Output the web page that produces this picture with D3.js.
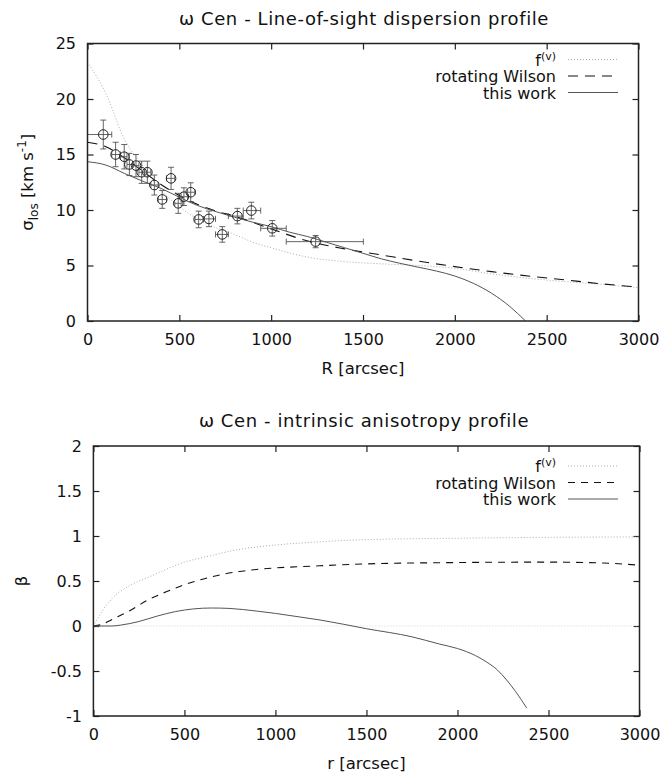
<!DOCTYPE html>
<html>
<head>
<meta charset="utf-8">
<script src="https://cdn.jsdelivr.net/npm/d3@7"></script>
<style>
  body { margin: 0; background: #fff; }
  text { font-family: "DejaVu Sans", sans-serif; fill: #111; }
</style>
</head>
<body>
<svg id="chart" width="665" height="775"></svg>
<script>
// --- observed line-of-sight dispersion (points with bins) ---
const obsR      = [86, 153, 200, 228, 264, 295, 326, 364, 407, 455, 494, 525, 562, 605, 661, 734, 816, 892, 1006, 1242];
const obsRlow   = [0, 132, 180, 215, 245, 280, 310, 345, 385, 430, 475, 510, 545, 585, 631, 697, 767, 848, 943, 1082];
const obsRhigh  = [132, 180, 215, 245, 280, 310, 345, 385, 430, 475, 510, 545, 585, 631, 697, 767, 848, 943, 1082, 1502];
const obsSigma  = [16.8, 15.0, 14.8, 14.1, 14.0, 13.4, 13.4, 12.25, 10.95, 12.85, 10.6, 11.2, 11.6, 9.15, 9.2, 7.8, 9.45, 9.95, 8.35, 7.15];
const obsSigErr = [1.3, 1.1, 1.1, 1.0, 1.0, 1.0, 1.0, 0.9, 0.8, 1.0, 0.9, 0.8, 0.85, 0.75, 0.7, 0.7, 0.7, 0.75, 0.7, 0.55];

// --- model dispersion curves ---
const fvLosR       = [0, 100, 200, 300, 400, 500, 600, 700, 800, 900, 1000, 1200, 1400, 1600, 1800, 2000, 2200, 2400, 2600, 2800, 3000];
const fvLosSigma   = [23.3, 20.5, 16.4, 14.0, 11.8, 10.3, 9.2, 8.4, 7.8, 7.1, 6.6, 5.75, 5.35, 5.15, 5.0, 4.75, 4.25, 3.85, 3.55, 3.3, 3.0];
const wilLosR      = [0, 100, 200, 300, 400, 500, 600, 700, 800, 1000, 1200, 1400, 1600, 1800, 2000, 2200, 2400, 2600, 2800, 3000];
const wilLosSigma  = [16.1, 15.7, 14.7, 13.5, 12.3, 11.3, 10.5, 9.9, 9.45, 8.3, 7.2, 6.5, 5.95, 5.4, 4.9, 4.45, 4.05, 3.7, 3.35, 3.05];
const workLosR     = [0, 100, 200, 300, 400, 500, 600, 700, 800, 900, 1000, 1100, 1200, 1300, 1400, 1500, 1600, 1700, 1800, 1900, 2000, 2100, 2200, 2300, 2385];
const workLosSigma = [14.35, 14.05, 13.3, 12.6, 11.95, 11.15, 10.4, 9.85, 9.35, 8.9, 8.5, 8.0, 7.6, 7.1, 6.6, 6.1, 5.6, 5.2, 4.85, 4.5, 4.05, 3.4, 2.5, 1.3, 0];

// --- anisotropy curves ---
const fvBetaR     = [0, 50, 100, 200, 300, 400, 500, 600, 800, 1000, 1200, 1500, 2000, 2500, 3000];
const fvBeta      = [0, 0.17, 0.3, 0.45, 0.54, 0.63, 0.71, 0.76, 0.85, 0.9, 0.93, 0.96, 0.975, 0.985, 0.99];
const wilBetaR    = [0, 50, 100, 200, 300, 400, 500, 600, 700, 800, 1000, 1200, 1500, 2000, 2500, 2800, 3000];
const wilBeta     = [0, 0.02, 0.07, 0.17, 0.29, 0.38, 0.46, 0.52, 0.57, 0.605, 0.645, 0.665, 0.69, 0.705, 0.71, 0.7, 0.675];
const workBetaR   = [0, 100, 150, 250, 350, 450, 550, 650, 750, 900, 1000, 1135, 1245, 1500, 1750, 1900, 2000, 2100, 2160, 2220, 2270, 2320, 2380];
const workBeta    = [0, 0, 0.01, 0.05, 0.11, 0.16, 0.19, 0.2, 0.195, 0.165, 0.14, 0.1, 0.067, -0.03, -0.12, -0.2, -0.25, -0.33, -0.4, -0.49, -0.6, -0.73, -0.91];

const xTicks = [0, 500, 1000, 1500, 2000, 2500, 3000];
const losTicks = [0, 5, 10, 15, 20, 25];
const betaTicks = [-1, -0.5, 0, 0.5, 1, 1.5, 2];
const legendNames = ["f(v)", "rotating Wilson", "this work"];

const svg = d3.select("#chart");

const styles = {
  fv:   { stroke: "#aaa", dash: "1,2", width: 1 },
  wil:  { stroke: "#111", dash: "9,7", width: 1.1 },
  work: { stroke: "#555", dash: null, width: 1 }
};

function zip(a, b) { return a.map((v, i) => [v, b[i]]); }
const plain = d => String(d);

function panel(opt) {
  const x = d3.scaleLinear().domain([0, 3000]).range(opt.xRange);
  const y = d3.scaleLinear().domain(opt.yDomain).range(opt.yRange);
  const g = svg.append("g");

  const clipId = "clip" + opt.id;
  g.append("clipPath").attr("id", clipId).append("rect")
    .attr("x", opt.xRange[0]).attr("y", opt.yRange[1])
    .attr("width", opt.xRange[1] - opt.xRange[0])
    .attr("height", opt.yRange[0] - opt.yRange[1]);

  // axes with inward ticks on all four sides
  const bottom = g.append("g").attr("transform", `translate(0,${opt.yRange[0]})`)
    .call(d3.axisBottom(x).tickValues(xTicks).tickSize(-6).tickPadding(13).tickFormat(plain));
  const top = g.append("g").attr("transform", `translate(0,${opt.yRange[1]})`)
    .call(d3.axisTop(x).tickValues(xTicks).tickSize(-6).tickFormat(""));
  const left = g.append("g").attr("transform", `translate(${opt.xRange[0]},0)`)
    .call(d3.axisLeft(y).tickValues(opt.yTicks).tickSize(-6).tickPadding(11.5).tickFormat(plain));
  const right = g.append("g").attr("transform", `translate(${opt.xRange[1]},0)`)
    .call(d3.axisRight(y).tickValues(opt.yTicks).tickSize(-6).tickFormat(""));

  [bottom, top, left, right].forEach(a => {
    a.select(".domain").remove();
    a.selectAll("line").attr("stroke", "#222").attr("stroke-width", 1.2);
    a.selectAll("text").attr("font-size", 16).attr("fill", "#111")
      .style("font-family", "'DejaVu Sans', sans-serif");
  });

  const plot = g.append("g").attr("clip-path", `url(#${clipId})`);

  if (opt.zeroLine) {
    plot.append("line")
      .attr("x1", opt.xRange[0]).attr("x2", opt.xRange[1])
      .attr("y1", y(0)).attr("y2", y(0))
      .attr("stroke", "#ccc").attr("stroke-width", 0.8).attr("stroke-dasharray", "1,2");
  }

  const line = d3.line().x(d => x(d[0])).y(d => y(d[1])).curve(d3.curveMonotoneX);

  opt.curves.forEach(c => {
    const s = styles[c.key];
    plot.append("path")
      .attr("d", line(zip(c.xs, c.ys)))
      .attr("fill", "none")
      .attr("stroke", s.stroke)
      .attr("stroke-width", s.width)
      .attr("stroke-dasharray", c.key === "wil" ? opt.wilDash : s.dash);
  });

  if (opt.points) {
    const cap = 3;
    const pts = plot.append("g").attr("stroke", "#555").attr("stroke-width", 0.9).attr("fill", "none");
    obsR.forEach((r, i) => {
      const cx = x(r), cy = y(obsSigma[i]);
      const xl = x(obsRlow[i]), xh = x(obsRhigh[i]);
      const yl = y(obsSigma[i] - obsSigErr[i]), yh = y(obsSigma[i] + obsSigErr[i]);
      pts.append("line").attr("x1", xl).attr("x2", xh).attr("y1", cy).attr("y2", cy);
      pts.append("line").attr("x1", xl).attr("x2", xl).attr("y1", cy - cap).attr("y2", cy + cap);
      pts.append("line").attr("x1", xh).attr("x2", xh).attr("y1", cy - cap).attr("y2", cy + cap);
      pts.append("line").attr("x1", cx).attr("x2", cx).attr("y1", yl).attr("y2", yh);
      pts.append("line").attr("x1", cx - cap).attr("x2", cx + cap).attr("y1", yl).attr("y2", yl);
      pts.append("line").attr("x1", cx - cap).attr("x2", cx + cap).attr("y1", yh).attr("y2", yh);
      pts.append("circle").attr("cx", cx).attr("cy", cy).attr("r", 4.8)
        .attr("stroke", "#222").attr("stroke-width", 1);
    });
  }

  // frame
  g.append("rect")
    .attr("x", opt.xRange[0]).attr("y", opt.yRange[1])
    .attr("width", opt.xRange[1] - opt.xRange[0])
    .attr("height", opt.yRange[0] - opt.yRange[1])
    .attr("fill", "none").attr("stroke", "#222").attr("stroke-width", 1.5);

  // legend
  const keys = ["fv", "wil", "work"];
  const lg = g.append("g");
  keys.forEach((k, i) => {
    const yy = opt.legendY + i * 16.5;
    const s = styles[k];
    lg.append("line")
      .attr("x1", 568).attr("x2", 618).attr("y1", yy).attr("y2", yy)
      .attr("stroke", s.stroke).attr("stroke-width", s.width)
      .attr("stroke-dasharray", k === "wil" ? opt.wilDash : s.dash);
    const t = lg.append("text").attr("x", 556).attr("y", yy + 6)
      .attr("text-anchor", "end").attr("font-size", 16);
    if (k === "fv") {
      t.append("tspan").text("f");
      t.append("tspan").attr("font-size", 11).attr("dy", -6).text("(v)");
    } else {
      t.text(legendNames[i]);
    }
  });

  // title and axis labels
  g.append("text").attr("x", 364).attr("y", opt.yRange[1] - 19)
    .attr("text-anchor", "middle").attr("font-size", 18)
    .attr("letter-spacing", 0.6).text(opt.title);
  g.append("text").attr("x", (opt.xRange[0] + opt.xRange[1]) / 2).attr("y", opt.yRange[0] + 53)
    .attr("text-anchor", "middle").attr("font-size", 16.5).text(opt.xLabel);

  const yl = g.append("text")
    .attr("transform", `translate(${opt.yLabelX},${(opt.yRange[0] + opt.yRange[1]) / 2}) rotate(-90)`)
    .attr("text-anchor", "middle").attr("font-size", 16.5);
  opt.yLabel(yl);
}

panel({
  id: "los",
  xRange: [87.5, 638.5],
  yRange: [321, 43.5],
  yDomain: [0, 25],
  yTicks: losTicks,
  title: "\u03c9 Cen - Line-of-sight dispersion profile",
  xLabel: "R [arcsec]",
  yLabelX: 33,
  legendY: 59.5,
  wilDash: "10,7",
  points: true,
  curves: [
    { key: "fv", xs: fvLosR, ys: fvLosSigma },
    { key: "wil", xs: wilLosR, ys: wilLosSigma },
    { key: "work", xs: workLosR, ys: workLosSigma }
  ],
  yLabel: t => {
    t.append("tspan").text("\u03c3");
    t.append("tspan").attr("font-size", 12).attr("dy", 5).text("los");
    t.append("tspan").attr("dy", -5).text(" [km s");
    t.append("tspan").attr("font-size", 12).attr("dy", -7).text("-1");
    t.append("tspan").attr("dy", 7).text("]");
  }
});

panel({
  id: "beta",
  xRange: [93.4, 639.5],
  yRange: [716, 446],
  yDomain: [-1, 2],
  yTicks: betaTicks,
  title: "\u03c9 Cen - intrinsic anisotropy profile",
  xLabel: "r [arcsec]",
  yLabelX: 27,
  legendY: 466,
  wilDash: "7,6",
  points: false,
  zeroLine: true,
  curves: [
    { key: "fv", xs: fvBetaR, ys: fvBeta },
    { key: "wil", xs: wilBetaR, ys: wilBeta },
    { key: "work", xs: workBetaR, ys: workBeta }
  ],
  yLabel: t => t.text("\u03b2")
});
</script>
</body>
</html>
